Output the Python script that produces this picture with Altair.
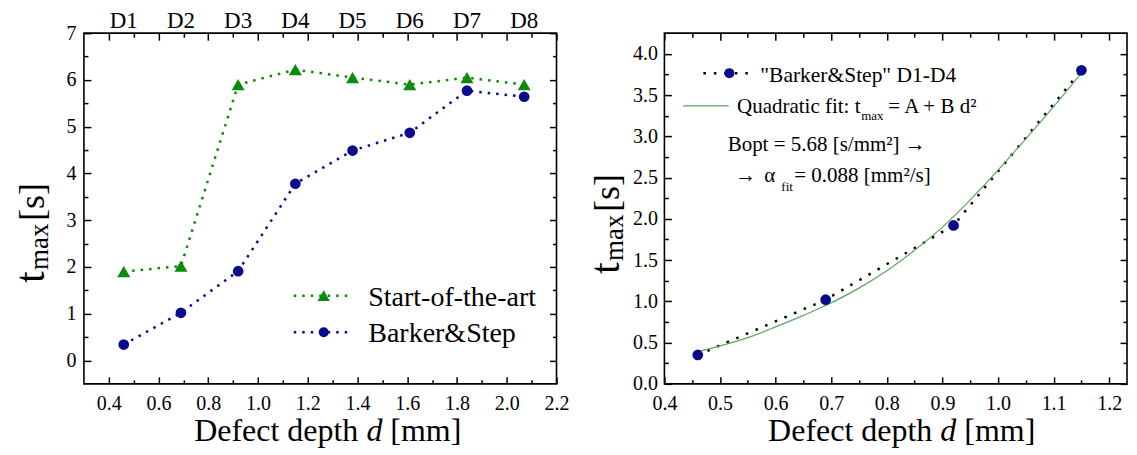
import altair as alt
import pandas as pd

# ---------------- data ----------------
depth = [0.46, 0.69, 0.92, 1.15, 1.38, 1.61, 1.84, 2.07]
d_labels = ["D1", "D2", "D3", "D4", "D5", "D6", "D7", "D8"]
state_art = [1.90, 2.02, 5.90, 6.22, 6.05, 5.90, 6.05, 5.90]
barker_step = [0.34, 1.02, 1.91, 3.78, 4.49, 4.87, 5.77, 5.64]

bs_depth = [0.46, 0.69, 0.92, 1.15]
bs_tmax = [0.35, 1.02, 1.92, 3.80]

fit_depth = [0.46, 0.50, 0.55, 0.60, 0.65, 0.69, 0.75, 0.80, 0.85, 0.90,
             0.95, 1.00, 1.05, 1.10, 1.15]
fit_tmax = [0.39, 0.46, 0.56, 0.69, 0.83, 0.95, 1.16, 1.37, 1.62, 1.90,
            2.23, 2.59, 2.97, 3.36, 3.77]

left_x_major = [0.4, 0.6, 0.8, 1.0, 1.2, 1.4, 1.6, 1.8, 2.0, 2.2]
left_x_minor = [0.5, 0.7, 0.9, 1.1, 1.3, 1.5, 1.7, 1.9, 2.1]
left_y_major = [0, 1, 2, 3, 4, 5, 6, 7]
left_y_minor = [0.5, 1.5, 2.5, 3.5, 4.5, 5.5, 6.5]
right_x_major = [0.4, 0.5, 0.6, 0.7, 0.8, 0.9, 1.0, 1.1, 1.2]
right_x_minor = [0.45, 0.55, 0.65, 0.75, 0.85, 0.95, 1.05, 1.15]
right_y_major = [0.0, 0.5, 1.0, 1.5, 2.0, 2.5, 3.0, 3.5, 4.0]
right_y_minor = [0.25, 0.75, 1.25, 1.75, 2.25, 2.75, 3.25, 3.75]

# ---------------- style ----------------
FONT = "Liberation Serif, Times New Roman, Times, DejaVu Serif, serif"
GREEN = "#0B8A0B"
BLUE = "#0A0A8C"
FIT = "#5CA65C"
W1, W2, H = 473, 463, 351

df_left = pd.DataFrame({
    "d": depth * 2,
    "t": state_art + barker_step,
    "s": ["Start-of-the-art"] * len(depth) + ["Barker&Step"] * len(depth),
})
df_green = pd.DataFrame({"d": depth, "t": state_art})
df_blue = pd.DataFrame({"d": depth, "t": barker_step})
df_lab = pd.DataFrame({"d": depth, "label": d_labels})
df_bs = pd.DataFrame({"d": bs_depth, "t": bs_tmax})
df_fit = pd.DataFrame({"d": fit_depth, "t": fit_tmax})
one = pd.DataFrame({"k": [0]})


def ax(orient, values, tick=0, labels=False, offset=0, fmt=None, pad=8):
    kw = dict(orient=orient, grid=False, domain=False, title=None,
              labels=labels, ticks=tick > 0, tickSize=tick,
              tickColor="black", tickWidth=1.5, labelFlush=False,
              labelOverlap=False, offset=offset, values=values)
    if labels:
        kw.update(labelFont=FONT, labelFontSize=20, labelColor="black",
                  labelPadding=pad, format=fmt)
    return alt.Axis(**kw)


def axis_layers(df, xs, ys, W, xmaj, xmin, ymaj, ymin, xfmt, yfmt, ypad):
    specs = [
        (ax("bottom", xmaj, 0, True, 0, xfmt, 10), ax("left", ymaj, 0, True, 0, yfmt, ypad)),
        (ax("top", xmaj, 7, offset=-H), ax("right", ymaj, 7, offset=-W)),
        (ax("top", xmin, 4, offset=-H), ax("right", ymin, 4, offset=-W)),
        (ax("bottom", xmaj, 7, offset=-H), ax("left", ymaj, 7, offset=-W)),
        (ax("bottom", xmin, 4, offset=-H), ax("left", ymin, 4, offset=-W)),
    ]
    out = []
    for xa, ya in specs:
        out.append(alt.Chart(df).mark_point(opacity=0).encode(
            x=alt.X("d:Q", scale=xs, axis=xa),
            y=alt.Y("t:Q", scale=ys, axis=ya)))
    return out


def txt(s, x, y, size, angle=None, style="normal", align="left"):
    kw = dict(text=s, font=FONT, fontSize=size, align=align,
              baseline="alphabetic", color="black", fontStyle=style)
    if angle is not None:
        kw["angle"] = angle
    return alt.Chart(one).mark_text(**kw).encode(x=alt.value(x), y=alt.value(y))


def hrule(x1, x2, y, color, width, dash=None):
    kw = dict(color=color, strokeWidth=width)
    if dash:
        kw["strokeDash"] = dash
    return alt.Chart(one).mark_rule(**kw).encode(
        x=alt.value(x1), x2=alt.value(x2), y=alt.value(y))


def sym(x, y, shape, color, size):
    return alt.Chart(one).mark_point(shape=shape, filled=True, size=size,
                                     color=color, opacity=1).encode(
        x=alt.value(x), y=alt.value(y))


def ytitle(x, ty, my, sy):
    return [txt("t", x, ty, 42, 270), txt("max", x + 4, my, 27, 270),
            txt("[s]", x, sy, 36, 270)]


def xtitle(x0, y):
    return [txt("Defect depth", x0, y, 32),
            txt("d", x0 + 172.4, y, 32, style="italic"),
            txt("[mm]", x0 + 196.4, y, 32)]


# ---------------- left panel ----------------
xsL = alt.Scale(domain=[0.3, 2.2], nice=False, zero=False)
ysL = alt.Scale(domain=[-0.5, 7], nice=False, zero=False)
DOT = [2.5, 6]

left_layers = axis_layers(df_left, xsL, ysL, W1, left_x_major, left_x_minor,
                          left_y_major, left_y_minor, ".1f", "d", 8)
left_layers += [
    alt.Chart(df_green).mark_line(color=GREEN, strokeWidth=2.5, strokeDash=DOT).encode(
        x=alt.X("d:Q", scale=xsL, axis=None), y=alt.Y("t:Q", scale=ysL, axis=None)),
    alt.Chart(df_blue).mark_line(color=BLUE, strokeWidth=2.5, strokeDash=DOT).encode(
        x=alt.X("d:Q", scale=xsL, axis=None), y=alt.Y("t:Q", scale=ysL, axis=None)),
    alt.Chart(df_green).mark_point(shape="triangle-up", filled=True, size=170,
                                   color=GREEN, opacity=1).encode(
        x=alt.X("d:Q", scale=xsL, axis=None), y=alt.Y("t:Q", scale=ysL, axis=None)),
    alt.Chart(df_blue).mark_point(shape="circle", filled=True, size=115,
                                  color=BLUE, opacity=1).encode(
        x=alt.X("d:Q", scale=xsL, axis=None), y=alt.Y("t:Q", scale=ysL, axis=None)),
    alt.Chart(df_lab).mark_text(font=FONT, fontSize=23, baseline="alphabetic",
                                align="center", color="black").encode(
        x=alt.X("d:Q", scale=xsL, axis=None), y=alt.value(-5.6), text="label:N"),
    hrule(210, 267, 262.7, GREEN, 2.5, DOT),
    sym(240, 262.7, "triangle-up", GREEN, 150),
    txt("Start-of-the-art", 284.6, 272.7, 28),
    hrule(210, 267, 299.4, BLUE, 2.5, DOT),
    sym(240, 299.4, "circle", BLUE, 100),
    txt("Barker&Step", 284.6, 309.4, 28),
]
left_layers += ytitle(-40, 250, 237, 188)
left_layers += xtitle(110.3, 407.7)

left = alt.layer(*left_layers).properties(width=W1, height=H).resolve_scale(
    x="shared", y="shared").resolve_axis(x="independent", y="independent")

# ---------------- right panel ----------------
xsR = alt.Scale(domain=[0.4, 1.232], nice=False, zero=False)
ysR = alt.Scale(domain=[0, 4.25], nice=False, zero=False)
BDOT = [2.5, 8]

right_layers = axis_layers(df_bs, xsR, ysR, W2, right_x_major, right_x_minor,
                           right_y_major, right_y_minor, ".1f", ".1f", 7)
right_layers += [
    alt.Chart(df_bs).mark_line(color="black", strokeWidth=2.5, strokeDash=BDOT).encode(
        x=alt.X("d:Q", scale=xsR, axis=None), y=alt.Y("t:Q", scale=ysR, axis=None)),
    alt.Chart(df_fit).mark_line(color=FIT, strokeWidth=1.2, interpolate="monotone").encode(
        x=alt.X("d:Q", scale=xsR, axis=None), y=alt.Y("t:Q", scale=ysR, axis=None)),
    alt.Chart(df_bs).mark_point(shape="circle", filled=True, size=115,
                                color=BLUE, opacity=1).encode(
        x=alt.X("d:Q", scale=xsR, axis=None), y=alt.Y("t:Q", scale=ysR, axis=None)),
    hrule(39, 88, 40, "black", 2.5, BDOT),
    sym(65, 40, "circle", BLUE, 100),
    txt('"Barker&Step" D1-D4', 96, 48.7, 21.5),
    hrule(18.7, 64.3, 72.7, FIT, 1.2),
    txt("Quadratic fit: t", 72.7, 79.4, 21),
    txt("max", 197, 86.7, 13),
    txt("= A + B d²", 224, 79.4, 21),
    txt("Bopt = 5.68 [s/mm²] →", 63.3, 117.7, 21),
    txt("→", 71, 149.4, 21),
    txt("α", 100, 149.4, 21),
    txt("fit", 117, 158.4, 13),
    txt("= 0.088 [mm²/s]", 130, 149.4, 21),
]
right_layers += ytitle(-45, 241, 228, 179)
right_layers += xtitle(103.8, 407.7)

right = alt.layer(*right_layers).properties(width=W2, height=H).resolve_scale(
    x="shared", y="shared").resolve_axis(x="independent", y="independent")

chart = alt.hconcat(left, right, spacing=108, bounds="flush").properties(
    padding={"left": 1, "top": 0, "right": 0, "bottom": 0},
    background="white",
).configure_view(stroke="black", strokeWidth=1.6)

chart.save("out.html", embed_options={"renderer": "svg", "actions": False})
